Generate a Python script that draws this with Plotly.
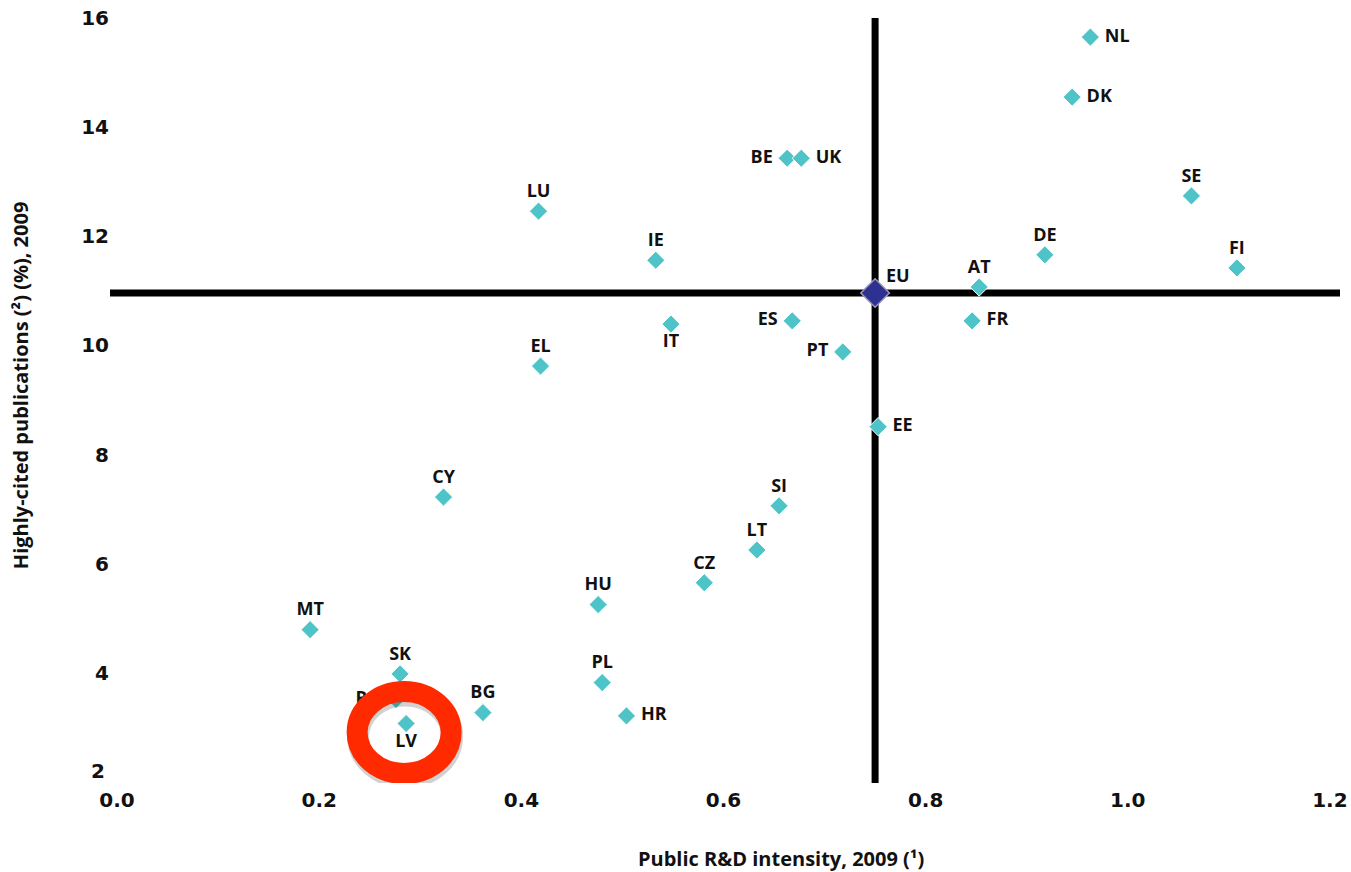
import plotly.graph_objects as go

countries = ["NL", "DK", "BE", "UK", "SE", "LU", "IE", "DE", "FI", "AT",
             "ES", "FR", "IT", "PT", "EL", "EE", "CY", "SI", "LT", "CZ",
             "HU", "MT", "SK", "PL", "RO", "BG", "HR", "LV"]
rd_intensity = [0.963, 0.945, 0.663, 0.677, 1.063, 0.417, 0.533, 0.918, 1.108, 0.853,
                0.668, 0.846, 0.548, 0.718, 0.419, 0.753, 0.323, 0.655, 0.633, 0.581,
                0.476, 0.191, 0.280, 0.480, 0.276, 0.362, 0.504, 0.286]
highly_cited = [15.65, 14.55, 13.43, 13.43, 12.74, 12.46, 11.56, 11.66, 11.42, 11.07,
                10.45, 10.45, 10.39, 9.88, 9.62, 8.51, 7.22, 7.06, 6.25, 5.65,
                5.25, 4.79, 3.98, 3.82, 3.51, 3.27, 3.21, 3.07]

eu_label = "EU"
eu_x = 0.750
eu_y = 10.96

x_ticks = [0.0, 0.2, 0.4, 0.6, 0.8, 1.0, 1.2]
x_tick_labels = ["0.0", "0.2", "0.4", "0.6", "0.8", "1.0", "1.2"]
y_ticks = [2, 4, 6, 8, 10, 12, 14, 16]
y_tick_labels = ["2", "4", "6", "8", "10", "12", "14", "16"]

x_title = "Public R&D intensity, 2009 (¹)"
y_title = "Highly-cited publications (²) (%), 2009"

highlight = "LV"

# label placement (style)
label_pos = {
    "NL": "middle right", "DK": "middle right", "BE": "middle left", "UK": "middle right",
    "SE": "top center", "LU": "top center", "IE": "top center", "DE": "top center",
    "FI": "top center", "AT": "top center", "ES": "middle left", "FR": "middle right",
    "IT": "bottom center", "PT": "middle left", "EL": "top center", "EE": "middle right",
    "CY": "top center", "SI": "top center", "LT": "top center", "CZ": "top center",
    "HU": "top center", "MT": "top center", "SK": "top center", "PL": "top center",
    "RO": "middle left", "BG": "top center", "HR": "middle right", "LV": "bottom center",
}
positions = [label_pos[c] for c in countries]

TEAL = "#4EC4C8"
NAVY = "#2E3192"
label_font = dict(family="Open Sans", size=18, color="#111111", weight="bold")
title_font = dict(family="Open Sans", size=20, color="#111111", weight="bold")
tick_font = dict(family="DejaVu Sans", size=20, color="#111111", weight="bold")

fig = go.Figure()

# EU reference lines
fig.add_shape(type="line", xref="x domain", yref="y", x0=0, x1=1, y0=eu_y, y1=eu_y,
              line=dict(color="black", width=7), layer="below")
fig.add_shape(type="line", xref="x", yref="y domain", x0=eu_x, x1=eu_x, y0=0, y1=1,
              line=dict(color="black", width=7), layer="below")

fig.add_trace(go.Scatter(
    x=rd_intensity, y=highly_cited, mode="markers+text",
    text=[" " + c + " " if "middle" in p else c for c, p in zip(countries, positions)],
    textposition=positions, textfont=label_font,
    marker=dict(symbol="diamond", size=14, color=TEAL, line=dict(color="white", width=1)),
    hoverinfo="text", showlegend=False,
))

fig.add_trace(go.Scatter(
    x=[eu_x], y=[eu_y], mode="markers", text=[eu_label],
    marker=dict(symbol="diamond", size=22, color=NAVY, line=dict(color="#9a9ab8", width=1.5)),
    hoverinfo="text", showlegend=False,
))
fig.add_annotation(x=eu_x, y=eu_y, text=eu_label, showarrow=False, xanchor="left",
                   yanchor="middle", xshift=9, yshift=18, font=label_font)

# red highlight ring around LV
hx = rd_intensity[countries.index(highlight)]
hy = highly_cited[countries.index(highlight)]
fig.add_shape(type="circle", xref="x", yref="y", xsizemode="pixel", ysizemode="pixel",
              xanchor=hx, yanchor=hy, x0=-48, x1=46, y0=-54, y1=28,
              line=dict(color="rgba(0,0,0,0.18)", width=22), layer="above")
fig.add_shape(type="circle", xref="x", yref="y", xsizemode="pixel", ysizemode="pixel",
              xanchor=hx, yanchor=hy, x0=-49, x1=45, y0=-50, y1=32,
              line=dict(color="#FF2A00", width=21), layer="above")

# axis titles
fig.add_annotation(text=x_title, xref="paper", yref="paper", x=0.5455, y=0,
                   xanchor="center", yanchor="middle", yshift=-75, showarrow=False,
                   font=title_font)
fig.add_annotation(text=y_title, xref="paper", yref="paper", x=-0.0732, y=0.52,
                   xanchor="center", yanchor="middle", textangle=-90, showarrow=False,
                   font=title_font)

# lowest y tick label sits slightly raised in the original (clear of the x labels)
fig.add_annotation(text=y_tick_labels[0], xref="paper", yref="y", x=0, y=y_ticks[0],
                   xanchor="right", yanchor="middle", xshift=-3, yshift=11,
                   showarrow=False, font=tick_font)

fig.update_xaxes(range=[-0.007, 1.21], tickvals=x_ticks, ticktext=x_tick_labels,
                 showgrid=False, zeroline=False, showline=False, ticks="",
                 ticklabelstandoff=3, automargin=False, ticklabeloverflow="allow",
                 tickfont=tick_font)
fig.update_yaxes(range=[1.98, 16.0], tickvals=y_ticks[1:], ticktext=y_tick_labels[1:],
                 showgrid=False, zeroline=False, showline=False, ticks="",
                 automargin=False, ticklabeloverflow="allow",
                 tickfont=tick_font)

fig.update_layout(width=1351, height=872, margin=dict(l=110, r=11, t=18, b=89),
                  plot_bgcolor="white", paper_bgcolor="white")

fig.write_html("out.html", post_script="document.body.style.margin='0';",
               config={"displayModeBar": False})
